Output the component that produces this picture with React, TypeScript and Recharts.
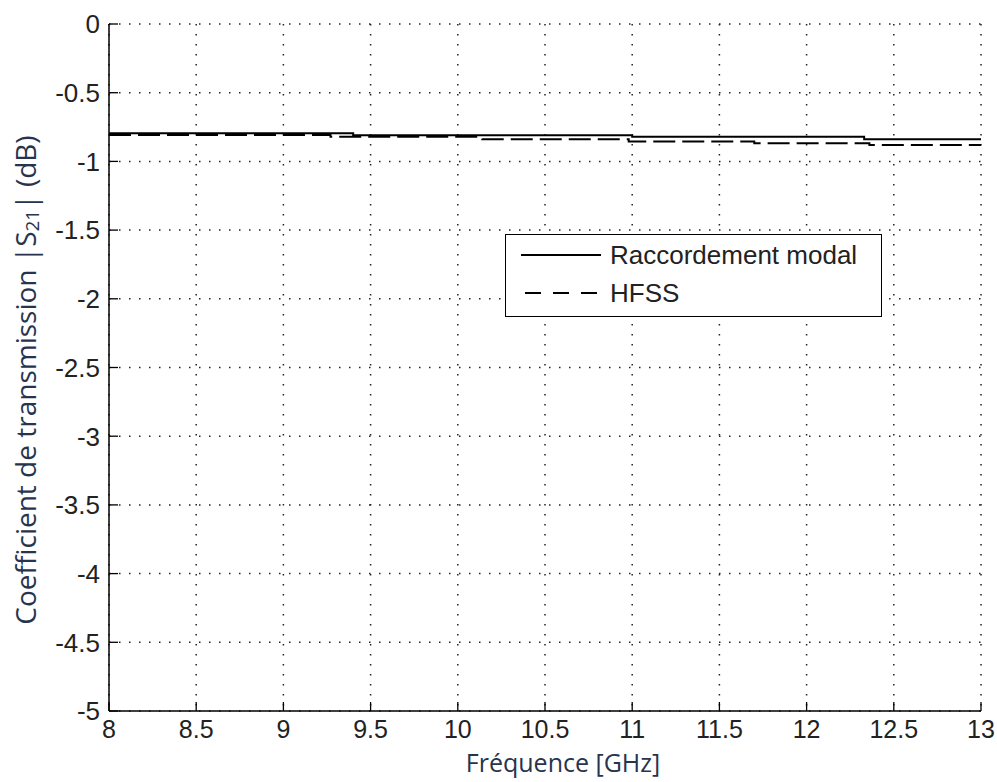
import React from "react";
import { LineChart, Line, XAxis, YAxis, CartesianGrid } from "recharts";

// Raccordement modal (solid) – frequency steps in GHz and |S21| in dB
const modalFreq = [8, 9.4, 11.0, 12.33, 13];
const modalDb = [-0.795, -0.81, -0.82, -0.839, -0.839];

// HFSS (dashed)
const hfssFreq = [8, 9.27, 10.14, 10.98, 11.7, 12.36, 13];
const hfssDb = [-0.807, -0.82, -0.838, -0.856, -0.868, -0.881, -0.881];

const xTicks = [8, 8.5, 9, 9.5, 10, 10.5, 11, 11.5, 12, 12.5, 13];
const yTicks = [0, -0.5, -1, -1.5, -2, -2.5, -3, -3.5, -4, -4.5, -5];

const modalRows = modalFreq.map((f, i) => ({ f, v: modalDb[i] }));
const hfssRows = hfssFreq.map((f, i) => ({ f, v: hfssDb[i] }));

const TICK_FONT = "'Liberation Sans', Arial, sans-serif";
const LABEL_FONT = "'Open Sans', 'Noto Sans', sans-serif";
const LABEL_COLOR = "#27344f";

const XTick = ({ x, y, payload }: any) => (
  <g>
    <line x1={x} x2={x} y1={y} y2={y - 9} stroke="#000" strokeWidth={1.3} />
    <text x={x} y={y + 27} textAnchor="middle" fontSize={25} fill="#222" fontFamily={TICK_FONT}>
      {payload.value}
    </text>
  </g>
);

const YTick = ({ x, y, payload }: any) => (
  <g>
    <line x1={x} x2={x + 9} y1={y} y2={y} stroke="#000" strokeWidth={1.3} />
    <text x={x - 9} y={y} dy="0.36em" textAnchor="end" fontSize={26} fill="#222" fontFamily={TICK_FONT}>
      {payload.value}
    </text>
  </g>
);

const LegendBox = () => (
  <div
    style={{
      position: "absolute",
      left: 505,
      top: 234,
      width: 377,
      height: 83,
      boxSizing: "border-box",
      border: "1.5px solid #000",
      background: "#fff",
    }}
  >
    <svg width={374} height={80} style={{ display: "block" }}>
      <line x1={15} x2={95} y1={20} y2={20} stroke="#000" strokeWidth={2} />
      <text x={104} y={20} dy="0.36em" fontSize={26} fill="#222" fontFamily={TICK_FONT}>
        Raccordement modal
      </text>
      <line x1={19} x2={95} y1={58} y2={58} stroke="#000" strokeWidth={2} strokeDasharray="16 12" />
      <text x={104} y={58} dy="0.36em" fontSize={26} fill="#222" fontFamily={TICK_FONT}>
        HFSS
      </text>
    </svg>
  </div>
);

export default function App() {
  return (
    <div style={{ position: "absolute", left: 0, top: 0, width: 997, height: 782, background: "#fff" }}>
      <LineChart width={997} height={782} margin={{ top: 24, right: 16, bottom: 0, left: 0 }}>
        <CartesianGrid
          stroke="#222"
          strokeWidth={1.5}
          strokeDasharray="1.5 8.5"
          horizontalValues={yTicks}
          verticalValues={xTicks}
        />
        <XAxis
          dataKey="f"
          type="number"
          domain={[8, 13]}
          ticks={xTicks}
          height={71}
          tickSize={0}
          tickMargin={0}
          tick={<XTick />}
          axisLine={{ stroke: "#000", strokeWidth: 1.5 }}
          tickLine={false}
          allowDuplicatedCategory={false}
          label={{
            content: () => (
              <text x={563} y={772} textAnchor="middle" fontSize={25} fill={LABEL_COLOR} fontFamily={LABEL_FONT}>
                Fréquence [GHz]
              </text>
            ),
          }}
        />
        <YAxis
          type="number"
          domain={[-5, 0]}
          ticks={yTicks}
          width={109}
          tickSize={0}
          tickMargin={0}
          tick={<YTick />}
          axisLine={{ stroke: "#000", strokeWidth: 1.5 }}
          tickLine={false}
          label={{
            content: () => (
              <text
                x={25}
                y={380}
                transform="rotate(-90 25 380)"
                textAnchor="middle"
                dominantBaseline="central"
                fontSize={28}
                fill={LABEL_COLOR}
                fontFamily={LABEL_FONT}
              >
                Coefficient de transmission |S
                <tspan fontSize={19} dy={7}>21</tspan>
                <tspan dy={-7}>| (dB)</tspan>
              </text>
            ),
          }}
        />
        <Line
          data={modalRows}
          dataKey="v"
          name="Raccordement modal"
          type="stepAfter"
          stroke="#000"
          strokeWidth={2}
          dot={false}
          isAnimationActive={false}
        />
        <Line
          data={hfssRows}
          dataKey="v"
          name="HFSS"
          type="stepAfter"
          stroke="#000"
          strokeWidth={2}
          strokeDasharray="22 7"
          dot={false}
          isAnimationActive={false}
        />
      </LineChart>
      <LegendBox />
    </div>
  );
}
